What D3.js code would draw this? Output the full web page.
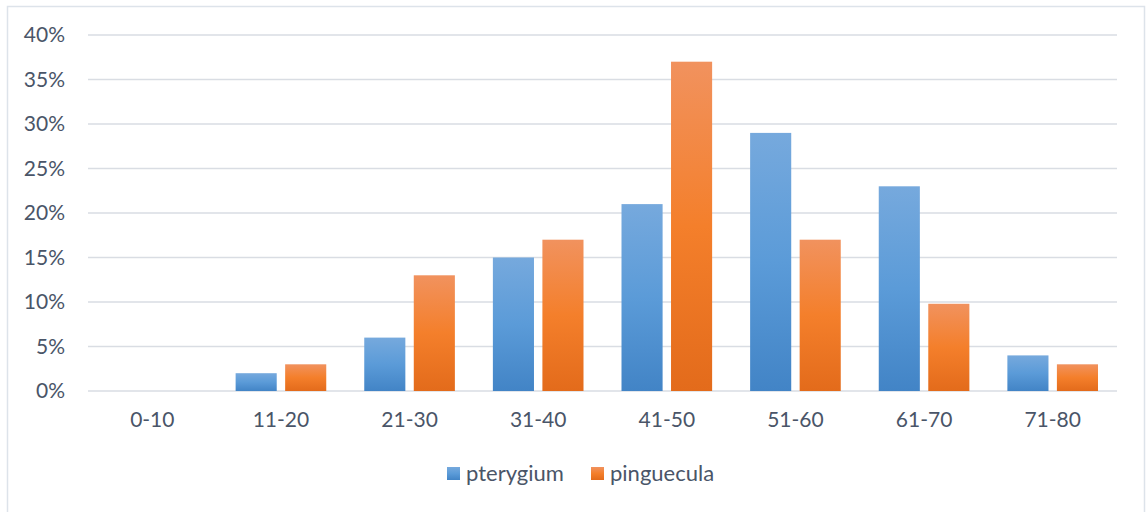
<!DOCTYPE html>
<html>
<head>
<meta charset="utf-8">
<script src="https://cdn.jsdelivr.net/npm/d3@7"></script>
<style>
    body { margin: 0; background: #fff; }
    text { font-family: Lato, "Open Sans", sans-serif; fill: #4a5568; }
</style>
</head>
<body>
<div id="chart"></div>
<script>
const categories = ["0-10", "11-20", "21-30", "31-40", "41-50", "51-60", "61-70", "71-80"];
const pterygium = [0, 2, 6, 15, 21, 29, 23, 4];
const pinguecula = [0, 3, 13, 17, 37, 17, 9.8, 3];
const seriesNames = ["pterygium", "pinguecula"];
const yTicks = [0, 5, 10, 15, 20, 25, 30, 35, 40];

const W = 1146, H = 512;
const margin = { top: 35, right: 29, bottom: 121, left: 88 };
const width = W - margin.left - margin.right;
const height = H - margin.top - margin.bottom;

const svg = d3.select("#chart").append("svg")
    .attr("width", W)
    .attr("height", H);

// gradients
const defs = svg.append("defs");
const grads = [
    { id: "gBlue", top: "#76a9dd", mid: "#5b9bd8", bottom: "#4284c6" },
    { id: "gOrange", top: "#f1925e", mid: "#f47f2b", bottom: "#e36b1b" }
];
grads.forEach(g => {
    const lg = defs.append("linearGradient").attr("id", g.id)
        .attr("x1", 0).attr("y1", 0).attr("x2", 0).attr("y2", 1);
    lg.append("stop").attr("offset", "0%").attr("stop-color", g.top);
    lg.append("stop").attr("offset", "50%").attr("stop-color", g.mid);
    lg.append("stop").attr("offset", "100%").attr("stop-color", g.bottom);
});

// outer frame
svg.append("rect")
    .attr("x", 7.5).attr("y", 6.5)
    .attr("width", 1137).attr("height", 520)
    .attr("fill", "none")
    .attr("stroke", "#dde3ea")
    .attr("stroke-width", 1.5);

const g = svg.append("g").attr("transform", `translate(${margin.left},${margin.top})`);

const x = d3.scaleBand().domain(categories).range([0, width]).paddingInner(0).paddingOuter(0);
const x1 = d3.scaleBand().domain(seriesNames).range([19, x.bandwidth() - 19]).paddingInner(0.17);
const y = d3.scaleLinear().domain([0, 40]).range([height, 0]);

// grid lines
g.append("g")
    .selectAll("line")
    .data(yTicks)
    .enter().append("line")
    .attr("x1", 0).attr("x2", width)
    .attr("y1", d => y(d)).attr("y2", d => y(d))
    .attr("stroke", "#d9dde3")
    .attr("stroke-width", 1.5);

// y axis labels
const yAxis = g.append("g")
    .call(d3.axisLeft(y).tickValues(yTicks).tickFormat(d => d + "%").tickSize(0).tickPadding(23));
yAxis.select(".domain").remove();
yAxis.selectAll("text").attr("font-size", "21px").style("font-family", "Lato, sans-serif").attr("fill", "#4a5568");

// bars
const data = categories.map((c, i) => ({ cat: c, values: [pterygium[i], pinguecula[i]] }));
const colors = ["url(#gBlue)", "url(#gOrange)"];

const groups = g.selectAll(".grp")
    .data(data)
    .enter().append("g")
    .attr("class", "grp")
    .attr("transform", d => `translate(${x(d.cat)},0)`);

groups.selectAll("rect")
    .data(d => d.values.map((v, j) => ({ name: seriesNames[j], v: v, j: j })))
    .enter().append("rect")
    .filter(d => d.v > 0)
    .attr("x", d => x1(d.name))
    .attr("width", x1.bandwidth())
    .attr("y", d => y(d.v))
    .attr("height", d => y(0) - y(d.v))
    .attr("fill", d => colors[d.j]);

// x axis labels
const xAxis = g.append("g")
    .attr("transform", `translate(0,${height})`)
    .call(d3.axisBottom(x).tickSize(0).tickPadding(21));
xAxis.select(".domain").remove();
xAxis.selectAll("text").attr("font-size", "21px").style("font-family", "Lato, sans-serif").attr("fill", "#4a5568");

// legend
const legend = svg.append("g").attr("transform", "translate(447,467)");
const legendX = [0, 144];
seriesNames.forEach((name, i) => {
    const item = legend.append("g").attr("transform", `translate(${legendX[i]},0)`);
    item.append("rect")
        .attr("width", 13).attr("height", 13)
        .attr("fill", colors[i]);
    item.append("text")
        .attr("x", 19).attr("y", 7)
        .attr("dy", "0.33em")
        .attr("font-size", "22px")
        .text(name);
});
</script>
</body>
</html>
